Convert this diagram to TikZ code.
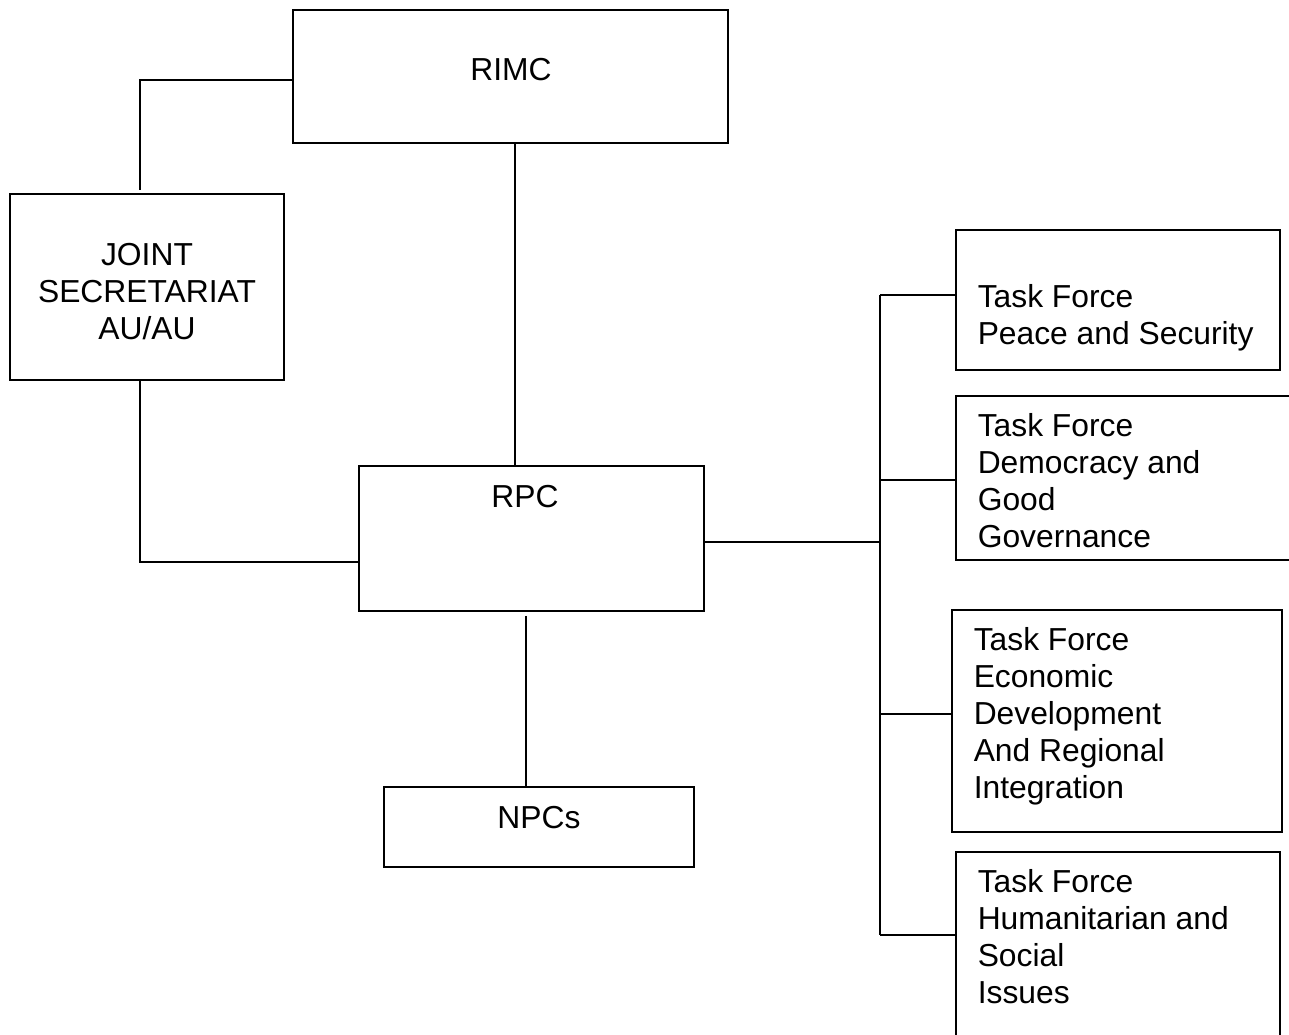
\documentclass[tikz,border=0pt]{standalone}
\usepackage{fontspec}
\setmainfont{Liberation Sans}
\usetikzlibrary{calc}
\tikzset{
  box/.style={draw, inner sep=0pt},
  txt/.style={inner sep=0pt, font=\fontsize{15.9}{18.5}\selectfont},
}
\begin{document}
\begin{tikzpicture}[x=0.5pt, y=-0.5pt, line width=0.75pt]
  \useasboundingbox (0,0) rectangle (1289,1034);
  \clip (0,0) rectangle (1289,1034);
  % boxes
  \node[box, minimum width=217.5pt, minimum height=66.5pt] (rimc) at (510.5,76.5) {};
  \node[box, minimum width=137pt, minimum height=93pt] (js) at (147,287) {};
  \node[box, minimum width=172.5pt, minimum height=72.5pt] (rpc) at (531.5,538.5) {};
  \node[box, minimum width=155pt, minimum height=40pt] (npcs) at (539,827) {};
  \node[box, minimum width=162pt, minimum height=70pt] (tf1) at (1118,300) {};
  \node[box, minimum width=172pt, minimum height=82pt] (tf2) at (1128,478) {};
  \node[box, minimum width=165pt, minimum height=111pt] (tf3) at (1117,721) {};
  \node[box, minimum width=162pt, minimum height=99pt] (tf4) at (1118,951) {};
  % texts
  \node[txt] (rimc-t) at (511,70) {RIMC};
  \node[txt, align=center] (js-t) at (147,291.5) {JOINT\\SECRETARIAT\\AU/AU};
  \node[txt] (rpc-t) at (525,497) {RPC};
  \node[txt] (npcs-t) at (539,818) {NPCs};
  \node[txt, align=left, anchor=west] (tf1-t) at (977,318) {Task Force\\Peace and Security};
  \node[txt, align=left, anchor=west] (tf2-t) at (977,480.5) {Task Force\\Democracy and\\Good\\Governance};
  \node[txt, align=left, anchor=west] (tf3-t) at (973,716) {Task Force\\Economic\\Development\\And Regional\\Integration};
  \node[txt, align=left, anchor=west] (tf4-t) at (977,936.5) {Task Force\\Humanitarian and\\Social\\Issues};
  % links
  \coordinate (c1) at (140,190);
  \draw ($(rimc.west)+(0,3.5)$) -| (c1);
  \draw ($(js.south)+(-7,0)$) |- ($(rpc.west)+(2,23.5)$);
  \draw ($(rimc.south)+(4.5,0)$) -- ($(rimc.south |- rpc.north)+(4.5,0)$);
  \draw ($(rpc.south)+(-5.5,4)$) -- ($(rpc.south |- npcs.north)+(-5.5,0)$);
  \coordinate (b1) at (880,295);
  \coordinate (b2) at (880,480);
  \coordinate (b3) at (880,714);
  \coordinate (b4) at (880,935);
  \draw (b1) -- (b4);
  \draw ($(rpc.east)+(0,3.5)$) -- ($(rpc.east -| b1)+(0,3.5)$);
  \foreach \i in {1,...,4}
    \draw (b\i) -- (b\i -| tf\i.west);
\end{tikzpicture}
\end{document}
